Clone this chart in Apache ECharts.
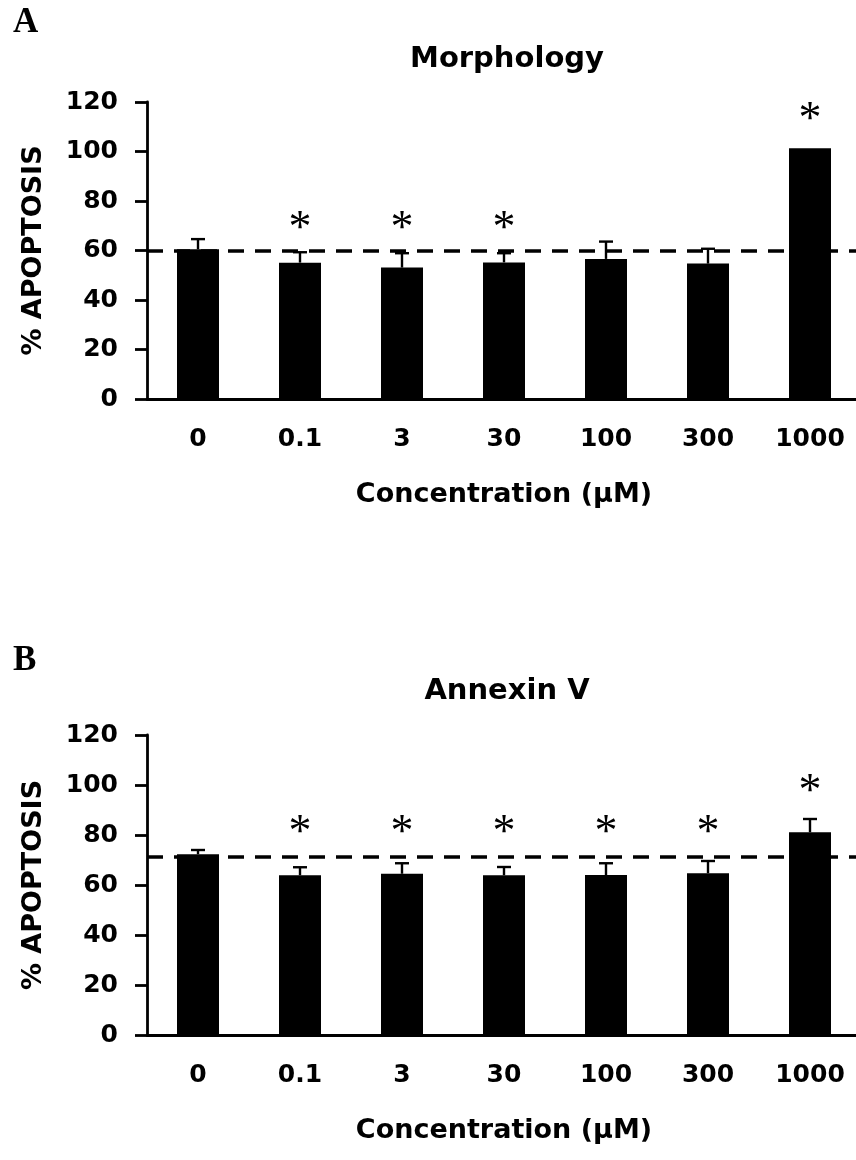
<!DOCTYPE html>
<html>
<head>
<meta charset="utf-8">
<script src="https://cdn.jsdelivr.net/npm/echarts@6/dist/echarts.min.js"></script>
<style>
html,body{margin:0;padding:0;background:#fff;}
#c{width:856px;height:1160px;}
</style>
</head>
<body>
<div id="c"></div>
<script>
// ---- data ----
const categories = ['0', '0.1', '3', '30', '100', '300', '1000'];
const yTicks = [0, 20, 40, 60, 80, 100, 120];

// Panel A: Morphology
const meanA = [60.5, 55.1, 53.1, 55.2, 56.6, 54.7, 101.3];
const errA = [4.1, 4.2, 5.8, 3.7, 7.0, 6.0, 0];
const controlA = 59.8;
const starA = [null, 71.5, 71.5, 71.5, null, null, 115.5];

// Panel B: Annexin V
const meanB = [72.3, 63.9, 64.5, 63.9, 64.0, 64.7, 81.1];
const errB = [1.7, 3.2, 4.2, 3.3, 4.7, 4.9, 5.3];
const controlB = 71.2;
const starB = [null, 83.7, 83.7, 83.7, 83.7, 83.7, 100];

// ---- chart ----
const FONT = 'DejaVu Sans';
const chart = echarts.init(document.getElementById('c'), null, {renderer: 'canvas'});

function xAxisCfg(gi) {
  return {
    type: 'category', gridIndex: gi, data: categories,
    axisTick: {show: false},
    axisLine: {lineStyle: {color: '#000', width: 2.8}},
    axisLabel: {color: '#000', fontFamily: FONT, fontWeight: 'bold', fontSize: 25, margin: 28},
    name: 'Concentration (µM)', nameLocation: 'middle', nameGap: 82,
    nameTextStyle: {color: '#000', fontFamily: FONT, fontWeight: 'bold', fontSize: 27}
  };
}
function yAxisCfg(gi) {
  return {
    type: 'value', gridIndex: gi, min: yTicks[0], max: yTicks[yTicks.length - 1], interval: 20,
    splitLine: {show: false},
    axisLine: {show: true, lineStyle: {color: '#000', width: 2.8}},
    axisTick: {show: true, length: 12, lineStyle: {color: '#000', width: 2.8}},
    axisLabel: {color: '#000', fontFamily: FONT, fontWeight: 'bold', fontSize: 25, margin: 29},
    name: '% APOPTOSIS', nameLocation: 'middle', nameGap: 100, nameRotate: 90,
    nameTextStyle: {color: '#000', fontFamily: FONT, fontWeight: 'bold', fontSize: 27}
  };
}
function barSeries(gi, vals, ctrl) {
  return {
    type: 'bar', xAxisIndex: gi, yAxisIndex: gi, data: vals, barWidth: 42,
    itemStyle: {color: '#000'}, silent: true,
    markLine: {
      symbol: 'none', silent: true, label: {show: false},
      lineStyle: {color: '#000', width: 3.5, type: [16, 11]},
      data: [{yAxis: ctrl}]
    }
  };
}
function errSeries(gi, vals, errs) {
  return {
    type: 'custom', xAxisIndex: gi, yAxisIndex: gi, z: 5, silent: true,
    data: vals.map((v, i) => [i, v, errs[i]]),
    renderItem: function (params, api) {
      const e = api.value(2);
      if (!e) return null;
      const base = api.coord([api.value(0), api.value(1)]);
      const top = api.coord([api.value(0), api.value(1) + e]);
      const st = {stroke: '#000', lineWidth: 2.4};
      return {type: 'group', children: [
        {type: 'line', shape: {x1: base[0], y1: base[1], x2: top[0], y2: top[1]}, style: st},
        {type: 'line', shape: {x1: top[0] - 7, y1: top[1], x2: top[0] + 7, y2: top[1]}, style: st}
      ]};
    }
  };
}
function starSeries(gi, stars) {
  return {
    type: 'custom', xAxisIndex: gi, yAxisIndex: gi, z: 6, silent: true,
    data: stars.map((v, i) => v == null ? null : [i, v]).filter(d => d),
    renderItem: function (params, api) {
      const p = api.coord([api.value(0), api.value(1)]);
      return {type: 'text', x: p[0], y: p[1] + 8,
        style: {text: '*', fill: '#000', font: '46px "Liberation Serif"', align: 'center', verticalAlign: 'middle'}};
    }
  };
}

const titleStyle = {color: '#000', fontFamily: FONT, fontWeight: 'bold', fontSize: 29};
const letterStyle = {color: '#000', fontFamily: 'Liberation Serif', fontWeight: 'bold', fontSize: 35};

chart.setOption({
  backgroundColor: '#fff',
  animation: false,
  title: [
    {text: 'A', left: 8, top: 0, textStyle: letterStyle},
    {text: 'Morphology', left: 502, textAlign: 'center', top: 40, textStyle: titleStyle},
    {text: 'B', left: 8, top: 638, textStyle: letterStyle},
    {text: 'Annexin V', left: 502, textAlign: 'center', top: 672, textStyle: titleStyle}
  ],
  grid: [
    {left: 147, top: 102, width: 714, height: 297, containLabel: false, outerBoundsMode: 'none'},
    {left: 147, top: 735, width: 714, height: 300, containLabel: false, outerBoundsMode: 'none'}
  ],
  xAxis: [xAxisCfg(0), xAxisCfg(1)],
  yAxis: [yAxisCfg(0), yAxisCfg(1)],
  series: [
    barSeries(0, meanA, controlA), errSeries(0, meanA, errA), starSeries(0, starA),
    barSeries(1, meanB, controlB), errSeries(1, meanB, errB), starSeries(1, starB)
  ]
});
</script>
</body>
</html>
